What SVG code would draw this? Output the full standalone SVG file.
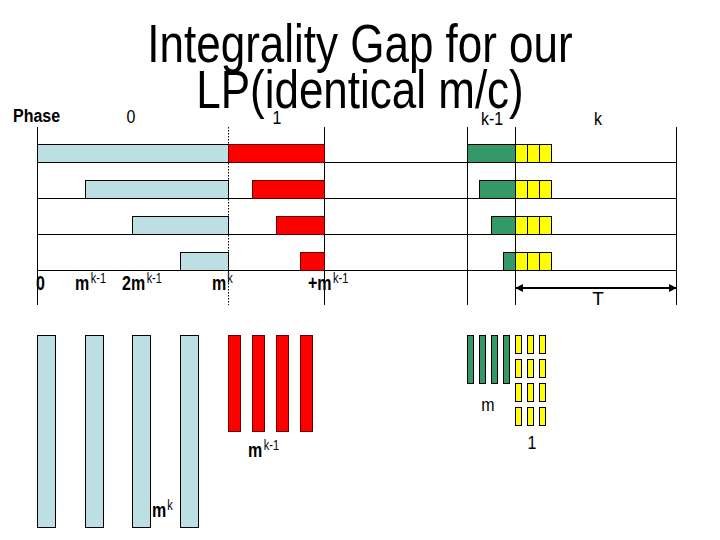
<svg xmlns="http://www.w3.org/2000/svg" width="720" height="540" viewBox="0 0 720 540">
<style>
text{font-family:"Liberation Sans",Arial,sans-serif;fill:#000}
.t{font-size:44px}
.lb{font-size:16px}
.bd{font-size:16px;font-weight:bold}
.sup{font-size:11px;font-weight:normal}
.ax{stroke:#000;stroke-width:1;fill:none}
.dot{stroke:#000;stroke-width:1;stroke-dasharray:1.5 1.5;fill:none}
.bl{fill:#BCDFE3;stroke:#000;stroke-width:1}
.rd{fill:#FF0000;stroke:#600;stroke-width:1}
.gr{fill:#339966;stroke:#000;stroke-width:1}
.yl{fill:#FFFF00;stroke:#000;stroke-width:1}
</style>
<defs>
<marker id="ah" viewBox="0 0 10 10" refX="9" refY="5" markerWidth="4" markerHeight="4" orient="auto-start-reverse">
<path d="M0,0 L10,5 L0,10 z" fill="#000"/>
</marker>
</defs>
<rect width="720" height="540" fill="#fff"/>

<g id="title">
<text class="t" transform="translate(360,62) scale(1,1.2)" text-anchor="middle">Integrality Gap for our</text>
<text class="t" transform="translate(360,108) scale(1,1.2)" text-anchor="middle">LP(identical m/c)</text>
</g>

<g id="phase-labels">
<text class="bd" transform="translate(13,122) scale(1,1.1)">Phase</text>
<text class="lb" transform="translate(131,123) scale(1,1.15)" text-anchor="middle">0</text>
<text class="lb" transform="translate(277,124) scale(1,1.15)" text-anchor="middle">1</text>
<text class="lb" transform="translate(492,125) scale(1,1.15)" text-anchor="middle">k-1</text>
<text class="lb" transform="translate(598,125) scale(1,1.15)" text-anchor="middle">k</text>
</g>

<g id="grid">
<line class="ax" x1="37.5" y1="127" x2="37.5" y2="305"/>
<line class="ax" x1="324.5" y1="127" x2="324.5" y2="305"/>
<line class="ax" x1="467.5" y1="127" x2="467.5" y2="305"/>
<line class="ax" x1="515.5" y1="127" x2="515.5" y2="305"/>
<line class="ax" x1="676.5" y1="127" x2="676.5" y2="305"/>
<line class="dot" x1="228.5" y1="127" x2="228.5" y2="305"/>
<line class="ax" x1="37" y1="162.5" x2="677" y2="162.5"/>
<line class="ax" x1="37" y1="198.5" x2="677" y2="198.5"/>
<line class="ax" x1="37" y1="234.5" x2="677" y2="234.5"/>
<line class="ax" x1="37" y1="270.5" x2="677" y2="270.5"/>
</g>

<g id="row1">
<rect class="bl" x="37.5" y="144.5" width="191" height="18"/>
<rect class="rd" x="228.5" y="144.5" width="96" height="18"/>
<rect class="gr" x="467.5" y="144.5" width="48" height="18"/>
<rect class="yl" x="515.5" y="144.5" width="12" height="18"/>
<rect class="yl" x="527.5" y="144.5" width="12" height="18"/>
<rect class="yl" x="539.5" y="144.5" width="12" height="18"/>
</g>
<g id="row2">
<rect class="bl" x="85.5" y="180.5" width="143" height="18"/>
<rect class="rd" x="252.5" y="180.5" width="72" height="18"/>
<rect class="gr" x="479.5" y="180.5" width="36" height="18"/>
<rect class="yl" x="515.5" y="180.5" width="12" height="18"/>
<rect class="yl" x="527.5" y="180.5" width="12" height="18"/>
<rect class="yl" x="539.5" y="180.5" width="12" height="18"/>
</g>
<g id="row3">
<rect class="bl" x="132.5" y="216.5" width="96" height="18"/>
<rect class="rd" x="276.5" y="216.5" width="48" height="18"/>
<rect class="gr" x="491.5" y="216.5" width="24" height="18"/>
<rect class="yl" x="515.5" y="216.5" width="12" height="18"/>
<rect class="yl" x="527.5" y="216.5" width="12" height="18"/>
<rect class="yl" x="539.5" y="216.5" width="12" height="18"/>
</g>
<g id="row4">
<rect class="bl" x="180.5" y="252.5" width="48" height="18"/>
<rect class="rd" x="300.5" y="252.5" width="24" height="18"/>
<rect class="gr" x="503.5" y="252.5" width="12" height="18"/>
<rect class="yl" x="515.5" y="252.5" width="12" height="18"/>
<rect class="yl" x="527.5" y="252.5" width="12" height="18"/>
<rect class="yl" x="539.5" y="252.5" width="12" height="18"/>
</g>

<g id="axis-labels">
<text class="bd" transform="translate(36,290) scale(1,1.25)">0</text>
<text class="bd" transform="translate(75,290) scale(1,1.25)">m<tspan class="sup" dx="1.5" dy="-6">k-1</tspan></text>
<text class="bd" transform="translate(122,290) scale(1,1.25)">2m<tspan class="sup" dx="1.5" dy="-6">k-1</tspan></text>
<text class="bd" transform="translate(212,290) scale(1,1.25)">m<tspan class="sup" dx="1" dy="-6">k</tspan></text>
<text class="bd" transform="translate(308,290) scale(1,1.25)">+m<tspan class="sup" dx="1.5" dy="-6">k-1</tspan></text>
</g>

<g id="connectors">
<line x1="516" y1="288" x2="676" y2="288" stroke="#000" stroke-width="2" marker-start="url(#ah)" marker-end="url(#ah)"/>
</g>
<g id="T-label">
<text x="598" y="305" font-size="19" text-anchor="middle">T</text>
</g>

<g id="blue-jobs">
<rect class="bl" x="37.5" y="335.5" width="18" height="192"/>
<rect class="bl" x="85.5" y="335.5" width="18" height="192"/>
<rect class="bl" x="132.5" y="335.5" width="18" height="192"/>
<rect class="bl" x="180.5" y="335.5" width="18" height="192"/>
<text class="bd" transform="translate(152,517) scale(1,1.25)">m<tspan class="sup" dx="1" dy="-6">k</tspan></text>
</g>

<g id="red-jobs">
<rect class="rd" x="228.5" y="335.5" width="12" height="96"/>
<rect class="rd" x="252.5" y="335.5" width="12" height="96"/>
<rect class="rd" x="276.5" y="335.5" width="12" height="96"/>
<rect class="rd" x="300.5" y="335.5" width="12" height="96"/>
<text class="bd" transform="translate(248,457) scale(1,1.25)">m<tspan class="sup" dx="1.5" dy="-6">k-1</tspan></text>
</g>

<g id="green-jobs">
<rect class="gr" x="467.5" y="335.5" width="6" height="48"/>
<rect class="gr" x="479.5" y="335.5" width="6" height="48"/>
<rect class="gr" x="491.5" y="335.5" width="6" height="48"/>
<rect class="gr" x="503.5" y="335.5" width="6" height="48"/>
<text class="lb" transform="translate(488,411) scale(1,1.15)" text-anchor="middle">m</text>
</g>

<g id="yellow-jobs">
<rect class="yl" x="515.5" y="335.5" width="6" height="18"/>
<rect class="yl" x="527.5" y="335.5" width="6" height="18"/>
<rect class="yl" x="539.5" y="335.5" width="6" height="18"/>
<rect class="yl" x="515.5" y="359.5" width="6" height="18"/>
<rect class="yl" x="527.5" y="359.5" width="6" height="18"/>
<rect class="yl" x="539.5" y="359.5" width="6" height="18"/>
<rect class="yl" x="515.5" y="383.5" width="6" height="18"/>
<rect class="yl" x="527.5" y="383.5" width="6" height="18"/>
<rect class="yl" x="539.5" y="383.5" width="6" height="18"/>
<rect class="yl" x="515.5" y="407.5" width="6" height="18"/>
<rect class="yl" x="527.5" y="407.5" width="6" height="18"/>
<rect class="yl" x="539.5" y="407.5" width="6" height="18"/>
<text class="lb" transform="translate(532,449) scale(1,1.15)" font-size="17" text-anchor="middle">1</text>
</g>
</svg>
